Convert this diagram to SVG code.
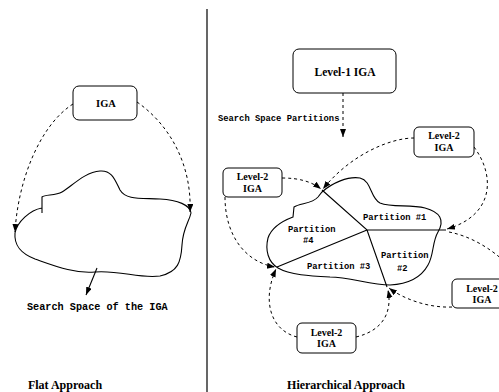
<svg xmlns="http://www.w3.org/2000/svg" width="499" height="392" viewBox="0 0 499 392">
<style>
.box{fill:#fff;stroke:#000;stroke-width:1}
.bt{font-family:"Liberation Serif",serif;font-weight:bold;font-size:10px;text-anchor:middle;fill:#000}
.mono{font-family:"Liberation Mono",monospace;font-weight:bold;font-size:8.8px;fill:#000}
.dash{fill:none;stroke:#000;stroke-width:1;stroke-dasharray:3,3}
.solid{fill:none;stroke:#000;stroke-width:1.1}
.title{font-family:"Liberation Serif",serif;font-weight:bold;font-size:12px;text-anchor:middle;fill:#000}
</style>
<defs>
<marker id="ah" markerUnits="userSpaceOnUse" markerWidth="9" markerHeight="7" refX="8" refY="3" orient="auto">
<path d="M0,0 L8,3 L0,6 z" fill="#000"/>
</marker>
</defs>
<rect width="499" height="392" fill="#fff"/>
<line x1="207" y1="9" x2="207" y2="392" stroke="#000" stroke-width="1.2"/>

<g id="connectors">
<path class="dash" d="M73,104 C40,125 18,180 15,232" marker-end="url(#ah)"/>
<path class="dash" d="M137,102 C170,125 192,165 190,212" marker-end="url(#ah)"/>
<path class="solid" d="M97,268 L86,295" marker-end="url(#ah)"/>
<path class="dash" d="M343,93 L343,137" marker-end="url(#ah)"/>
<path class="dash" d="M414,138 C390,138 350,155 323,189" marker-end="url(#ah)"/>
<path class="dash" d="M474,147 C495,175 495,215 447,229" marker-end="url(#ah)"/>
<path class="dash" d="M449,232 C470,236 490,248 505,262"/>
<path class="dash" d="M452,307 C430,308 405,300 389,288" marker-end="url(#ah)"/>
<path class="dash" d="M356,337 C385,330 392,310 388,290" marker-end="url(#ah)"/>
<path class="dash" d="M297,337 C270,330 262,300 276,269" marker-end="url(#ah)"/>
<path class="dash" d="M282,178 C300,178 312,182 321,189" marker-end="url(#ah)"/>
<path class="dash" d="M225,197 C225,235 245,262 275,267" marker-end="url(#ah)"/>
</g>

<g id="flat-space">
<path class="solid" d="M42,213 L42,197 C45,194 55,196 62,192 C72,186 85,172 100,171 C112,170 115,180 120,190 C126,200 140,198 160,199 C178,200 190,205 191,213 C189,222 183,228 182,245 C181,262 178,272 160,276 C140,279 120,270 95,272 C75,274 55,266 35,259 C20,253 14,245 15,233 C17,222 30,210 42,208"/>
<text class="mono" x="27" y="310" style="font-size:10.2px">Search Space of the IGA</text>
</g>

<g id="iga">
<rect class="box" x="73" y="86" width="64" height="34" rx="6"/>
<text class="bt" x="106" y="107" style="font-size:10.5px">IGA</text>
</g>

<g id="level1">
<rect class="box" x="293" y="49" width="103" height="44" rx="6"/>
<text class="bt" x="345" y="76" style="font-size:11.5px">Level-1 IGA</text>
</g>
<text class="mono" x="218" y="121">Search Space Partitions</text>

<g id="partitioned-space">
<path class="solid" d="M322,192 C332,183 348,176 360,178 C372,181 370,198 380,203 C392,208 410,204 425,208 C440,212 445,220 438,232 C432,242 434,255 428,265 C422,276 410,284 390,285 C370,285 350,277 330,277 C310,276 290,275 278,268 C268,262 265,250 268,238 C272,226 285,220 293,217 L294,207 C300,203 312,204 318,197 Z"/>
<path class="solid" d="M322,190 L367,230 L446,230 M367,230 L277,267 M367,230 L387,287"/>
<text class="mono" x="363" y="220">Partition #1</text>
<text class="mono" x="288" y="232">Partition</text>
<text class="mono" x="303" y="243">#4</text>
<text class="mono" x="307" y="269">Partition #3</text>
<text class="mono" x="381" y="258">Partition</text>
<text class="mono" x="397" y="271">#2</text>
</g>

<g id="level2-p1">
<rect class="box" x="414" y="127" width="60" height="30" rx="5"/>
<text class="bt" x="444" y="139">Level-2</text>
<text class="bt" x="444" y="151">IGA</text>
</g>
<g id="level2-p4">
<rect class="box" x="223" y="168" width="59" height="29" rx="5"/>
<text class="bt" x="252.5" y="180">Level-2</text>
<text class="bt" x="252.5" y="192">IGA</text>
</g>
<g id="level2-p3">
<rect class="box" x="297" y="323" width="59" height="30" rx="5"/>
<text class="bt" x="326.5" y="336">Level-2</text>
<text class="bt" x="326.5" y="347">IGA</text>
</g>
<g id="level2-p2">
<rect class="box" x="452" y="279" width="60" height="29" rx="5"/>
<text class="bt" x="482" y="292">Level-2</text>
<text class="bt" x="482" y="303">IGA</text>
</g>

<text class="title" x="65" y="389">Flat Approach</text>
<text class="title" x="346" y="389">Hierarchical Approach</text>
</svg>
